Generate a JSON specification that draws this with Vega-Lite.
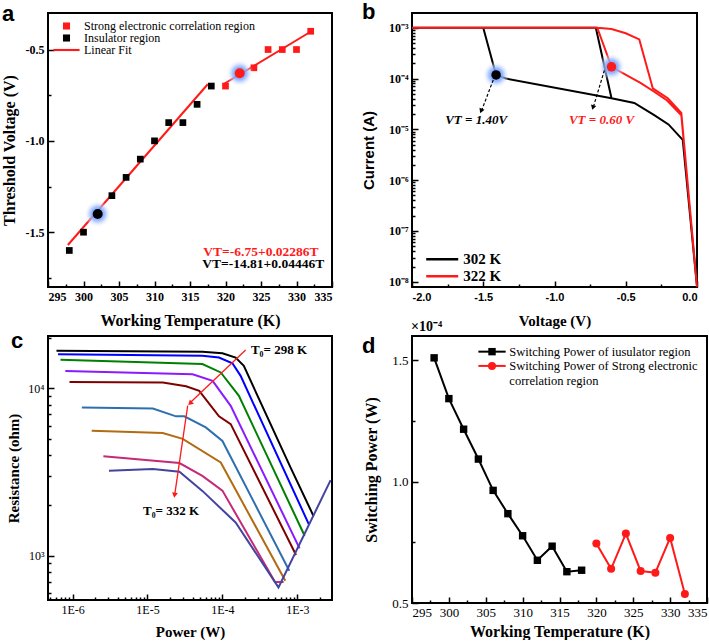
{
  "$schema": "https://vega.github.io/schema/vega-lite/v6.json",
  "padding": {"left": 0, "top": 0, "right": 0, "bottom": 0},
  "autosize": {"type": "pad"},
  "background": "white",
  "config": {
    "view": {"stroke": "black", "strokeWidth": 2},
    "axis": {"grid": false, "domain": false, "ticks": true, "tickColor": "black", "tickWidth": 1.5, "labelColor": "black", "titleColor": "black", "labelFont": "Liberation Serif", "titleFont": "Liberation Serif", "titleFontWeight": "bold", "labelFontSize": 12, "titleFontSize": 16, "labelPadding": 10, "labelOverlap": false},
    "legend": {"labelColor": "black", "padding": 0},
    "text": {"font": "Liberation Serif"}
  },
  "resolve": {"scale": {"color": "independent", "shape": "independent"}, "legend": {"color": "independent", "shape": "independent"}},
  "datasets": {
    "a_pts": [
      {"x": 298, "y": -1.6, "s": "Insulator region"},
      {"x": 300, "y": -1.5, "s": "Insulator region"},
      {"x": 304, "y": -1.3, "s": "Insulator region"},
      {"x": 306, "y": -1.2, "s": "Insulator region"},
      {"x": 308, "y": -1.1, "s": "Insulator region"},
      {"x": 310, "y": -1.0, "s": "Insulator region"},
      {"x": 312, "y": -0.9, "s": "Insulator region"},
      {"x": 314, "y": -0.9, "s": "Insulator region"},
      {"x": 316, "y": -0.8, "s": "Insulator region"},
      {"x": 318, "y": -0.7, "s": "Insulator region"},
      {"x": 320, "y": -0.7, "s": "Strong electronic correlation region"},
      {"x": 324, "y": -0.6, "s": "Strong electronic correlation region"},
      {"x": 326, "y": -0.5, "s": "Strong electronic correlation region"},
      {"x": 328, "y": -0.5, "s": "Strong electronic correlation region"},
      {"x": 330, "y": -0.5, "s": "Strong electronic correlation region"},
      {"x": 332, "y": -0.4, "s": "Strong electronic correlation region"}
    ],
    "a_fit": [
      {"x": 297.8, "y": -1.57, "g": "ins"},
      {"x": 317.5, "y": -0.69, "g": "ins"},
      {"x": 319.7, "y": -0.69, "g": "sec"},
      {"x": 332.1, "y": -0.40, "g": "sec"}
    ],
    "a_hl": [
      {"x": 302, "y": -1.4, "s": "Insulator region"},
      {"x": 322, "y": -0.63, "s": "Strong electronic correlation region"}
    ],
    "b_iv": [
      {"v": 0, "i": 8e-9, "s": "302 K", "o": 1},
      {"v": -0.1, "i": 6.2e-6, "s": "302 K", "o": 2},
      {"v": -0.2, "i": 1.25e-5, "s": "302 K", "o": 3},
      {"v": -0.3, "i": 1.9e-5, "s": "302 K", "o": 4},
      {"v": -0.44, "i": 3.3e-5, "s": "302 K", "o": 5},
      {"v": -0.6, "i": 4.1e-5, "s": "302 K", "o": 6},
      {"v": -1.34, "i": 1.0e-4, "s": "302 K", "o": 7},
      {"v": -1.41, "i": 1.18e-4, "s": "302 K", "o": 8},
      {"v": -1.5, "i": 1e-3, "s": "302 K", "o": 9},
      {"v": -2.0, "i": 1e-3, "s": "302 K", "o": 10},
      {"v": -0.71, "i": 1e-3, "s": "302 K", "o": 11},
      {"v": -0.6, "i": 4.1e-5, "s": "302 K", "o": 12},
      {"v": 0, "i": 8e-9, "s": "322 K", "o": 1},
      {"v": -0.11, "i": 2.1e-5, "s": "322 K", "o": 2},
      {"v": -0.205, "i": 4.1e-5, "s": "322 K", "o": 3},
      {"v": -0.31, "i": 6.4e-5, "s": "322 K", "o": 4},
      {"v": -0.405, "i": 5.9e-4, "s": "322 K", "o": 5},
      {"v": -0.5, "i": 7.8e-4, "s": "322 K", "o": 6},
      {"v": -0.6, "i": 9.4e-4, "s": "322 K", "o": 7},
      {"v": -0.7, "i": 1e-3, "s": "322 K", "o": 8},
      {"v": -2.0, "i": 1e-3, "s": "322 K", "o": 9},
      {"v": -0.7, "i": 1e-3, "s": "322 K", "o": 10},
      {"v": -0.6, "i": 1.7e-4, "s": "322 K", "o": 11},
      {"v": -0.394, "i": 8.1e-5, "s": "322 K", "o": 12},
      {"v": -0.3, "i": 5.5e-5, "s": "322 K", "o": 13},
      {"v": -0.215, "i": 3.8e-5, "s": "322 K", "o": 14},
      {"v": -0.11, "i": 1.9e-5, "s": "322 K", "o": 15},
      {"v": 0, "i": 8e-9, "s": "322 K", "o": 16}
    ],
    "b_hl": [
      {"v": -1.41, "i": 1.18e-4, "s": "302 K"},
      {"v": -0.6, "i": 1.7e-4, "s": "322 K"}
    ],
    "c_rp": [
      {"p": 6.1e-7, "r": 16800, "t": "298 K"},
      {"p": 5.4e-5, "r": 16600, "t": "298 K"},
      {"p": 1.0e-4, "r": 16260, "t": "298 K"},
      {"p": 1.5e-4, "r": 15300, "t": "298 K"},
      {"p": 1.93e-4, "r": 13650, "t": "298 K"},
      {"p": 8.1e-4, "r": 3370, "t": "298 K"},
      {"p": 1.64e-3, "r": 1730, "t": "298 K"},
      {"p": 6.4e-7, "r": 16040, "t": "302 K"},
      {"p": 5.4e-5, "r": 15700, "t": "302 K"},
      {"p": 9.0e-5, "r": 15300, "t": "302 K"},
      {"p": 1.36e-4, "r": 14150, "t": "302 K"},
      {"p": 1.75e-4, "r": 11900, "t": "302 K"},
      {"p": 1.44e-3, "r": 1524, "t": "302 K"},
      {"p": 6.9e-7, "r": 14830, "t": "306 K"},
      {"p": 5.4e-5, "r": 13990, "t": "306 K"},
      {"p": 9.5e-5, "r": 12470, "t": "306 K"},
      {"p": 1.66e-4, "r": 9030, "t": "306 K"},
      {"p": 1.25e-3, "r": 1315, "t": "306 K"},
      {"p": 8.0e-7, "r": 12740, "t": "310 K"},
      {"p": 4.0e-5, "r": 12170, "t": "310 K"},
      {"p": 7.4e-5, "r": 11100, "t": "310 K"},
      {"p": 1.29e-4, "r": 7870, "t": "310 K"},
      {"p": 1.07e-3, "r": 1106, "t": "310 K"},
      {"p": 9.1e-7, "r": 10940, "t": "314 K"},
      {"p": 1.6e-5, "r": 10860, "t": "314 K"},
      {"p": 3.27e-5, "r": 10300, "t": "314 K"},
      {"p": 4.9e-5, "r": 9680, "t": "314 K"},
      {"p": 9.0e-5, "r": 6810, "t": "314 K"},
      {"p": 1.29e-4, "r": 6120, "t": "314 K"},
      {"p": 9.6e-4, "r": 1010, "t": "314 K"},
      {"p": 1.33e-6, "r": 7700, "t": "318 K"},
      {"p": 1.18e-5, "r": 7590, "t": "318 K"},
      {"p": 2.4e-5, "r": 6810, "t": "318 K"},
      {"p": 3.1e-5, "r": 6810, "t": "318 K"},
      {"p": 6.0e-5, "r": 5850, "t": "318 K"},
      {"p": 1.0e-4, "r": 4850, "t": "318 K"},
      {"p": 7.8e-4, "r": 813, "t": "318 K"},
      {"p": 1.8e-6, "r": 5580, "t": "322 K"},
      {"p": 1.6e-5, "r": 5410, "t": "322 K"},
      {"p": 2.95e-5, "r": 5000, "t": "322 K"},
      {"p": 9.5e-5, "r": 3610, "t": "322 K"},
      {"p": 6.9e-4, "r": 708, "t": "322 K"},
      {"p": 2.58e-6, "r": 3930, "t": "326 K"},
      {"p": 2.67e-5, "r": 3580, "t": "326 K"},
      {"p": 5.4e-5, "r": 3000, "t": "326 K"},
      {"p": 1.0e-4, "r": 2450, "t": "326 K"},
      {"p": 5.03e-4, "r": 695, "t": "326 K"},
      {"p": 6.56e-4, "r": 695, "t": "326 K"},
      {"p": 3.06e-6, "r": 3220, "t": "332 K"},
      {"p": 1.18e-5, "r": 3300, "t": "332 K"},
      {"p": 2.67e-5, "r": 3180, "t": "332 K"},
      {"p": 5.4e-5, "r": 2440, "t": "332 K"},
      {"p": 1.5e-4, "r": 1580, "t": "332 K"},
      {"p": 5.6e-4, "r": 646, "t": "332 K"},
      {"p": 2.78e-3, "r": 2830, "t": "332 K"}
    ],
    "d_sp": [
      {"x": 298, "y": 1.51, "s": "Switching Power of iusulator region"},
      {"x": 300, "y": 1.342, "s": "Switching Power of iusulator region"},
      {"x": 302, "y": 1.216, "s": "Switching Power of iusulator region"},
      {"x": 304, "y": 1.093, "s": "Switching Power of iusulator region"},
      {"x": 306, "y": 0.964, "s": "Switching Power of iusulator region"},
      {"x": 308, "y": 0.868, "s": "Switching Power of iusulator region"},
      {"x": 310, "y": 0.777, "s": "Switching Power of iusulator region"},
      {"x": 312, "y": 0.676, "s": "Switching Power of iusulator region"},
      {"x": 314, "y": 0.734, "s": "Switching Power of iusulator region"},
      {"x": 316, "y": 0.629, "s": "Switching Power of iusulator region"},
      {"x": 318, "y": 0.635, "s": "Switching Power of iusulator region"},
      {"x": 320, "y": 0.745, "s": "Switching Power of Strong electronic correlation region"},
      {"x": 322, "y": 0.641, "s": "Switching Power of Strong electronic correlation region"},
      {"x": 324, "y": 0.786, "s": "Switching Power of Strong electronic correlation region"},
      {"x": 326, "y": 0.632, "s": "Switching Power of Strong electronic correlation region"},
      {"x": 328, "y": 0.625, "s": "Switching Power of Strong electronic correlation region"},
      {"x": 330, "y": 0.768, "s": "Switching Power of Strong electronic correlation region"},
      {"x": 332, "y": 0.537, "s": "Switching Power of Strong electronic correlation region"}
    ]
  },
  "columns": 2,
  "spacing": {"row": 49, "column": 80},
  "bounds": "flush",
  "concat": [
    {
      "title": {"text": "a", "anchor": "start", "frame": "group", "orient": "top", "offset": 0, "baseline": "alphabetic", "dx": -46, "dy": 30, "font": "Liberation Sans", "fontSize": 22, "fontWeight": "bold", "color": "black"},
      "width": 284,
      "height": 274,
      "layer": [
        {"data": {"name": "a_fit"}, "mark": {"type": "line", "color": "#ff1a1a", "strokeWidth": 2},
          "encoding": {
            "x": {"field": "x", "type": "quantitative", "scale": {"domain": [295, 335], "nice": false, "zero": false},
              "axis": {"title": "Working Temperature (K)", "values": [295, 297.5, 300, 302.5, 305, 307.5, 310, 312.5, 315, 317.5, 320, 322.5, 325, 327.5, 330, 332.5, 335], "tickCount": 100, "labelExpr": "datum.value % 5 == 0 ? format(datum.value, 'd') : ''", "labelOverlap": false, "labelBound": false, "tickSize": {"condition": {"test": "datum.value % 5 == 0", "value": -6}, "value": -3}, "labelFontWeight": "bold", "titlePadding": 7}},
            "y": {"field": "y", "type": "quantitative", "scale": {"domain": [-1.8, -0.3], "nice": false, "zero": false},
              "axis": {"title": "Threshold Voltage (V)", "values": [-1.75, -1.5, -1.25, -1, -0.75, -0.5], "tickCount": 100, "labelOverlap": false, "labelExpr": "abs(datum.value*2 - round(datum.value*2)) < 0.001 ? replace(format(datum.value, '.1f'), '\u2212', '-') : ''", "tickSize": {"condition": {"test": "abs(datum.value*2 - round(datum.value*2)) < 0.001", "value": -6}, "value": -3}, "labelFontWeight": "bold", "titlePadding": 8}},
            "detail": {"field": "g", "type": "nominal"}}},
        {"data": {"name": "a_pts"}, "mark": {"type": "point", "filled": true, "size": 45, "opacity": 1},
          "encoding": {
            "x": {"field": "x", "type": "quantitative"},
            "y": {"field": "y", "type": "quantitative"},
            "color": {"field": "s", "type": "nominal", "scale": {"domain": ["Strong electronic correlation region", "Insulator region", "Linear Fit"], "range": ["#ff1a1a", "#000000", "#ff1a1a"]},
              "legend": {"orient": "none", "legendX": 12.5, "legendY": 7, "title": null, "labelFont": "Liberation Serif", "labelFontSize": 12, "labelLimit": 300, "symbolSize": 50, "rowPadding": -0.5, "labelOffset": 11.5}},
            "shape": {"field": "s", "type": "nominal", "scale": {"domain": ["Strong electronic correlation region", "Insulator region", "Linear Fit"], "range": ["square", "square", "M-3.7,-0.3H3.7V0.3H-3.7Z"]},
              "legend": {"orient": "none", "legendX": 12.5, "legendY": 7, "title": null, "labelFont": "Liberation Serif", "labelFontSize": 12, "labelLimit": 300, "symbolSize": 50, "rowPadding": -0.5, "labelOffset": 11.5}}
          }},
        {"data": {"name": "a_hl"}, "mark": {"type": "point", "shape": "circle", "size": 750, "filled": true, "strokeWidth": 0, "opacity": 0.85, "fill": {"gradient": "radial", "stops": [{"offset": 0, "color": "#2f6fff"}, {"offset": 0.5, "color": "#8fb3ff"}, {"offset": 1, "color": "rgba(255,255,255,0)"}]}},
          "encoding": {"x": {"field": "x", "type": "quantitative"}, "y": {"field": "y", "type": "quantitative"}}},
        {"data": {"name": "a_hl"}, "mark": {"type": "point", "shape": "circle", "size": 100, "filled": true, "opacity": 1},
          "encoding": {"x": {"field": "x", "type": "quantitative"}, "y": {"field": "y", "type": "quantitative"}, "color": {"field": "s", "type": "nominal", "legend": null}}},
        {"data": {"values": [{}]}, "mark": {"type": "text", "text": "VT=-6.75+0.02286T", "align": "right", "baseline": "middle", "font": "Liberation Serif", "fontSize": 13.5, "fontWeight": "bold", "color": "#ff1a1a"},
          "encoding": {"x": {"datum": 333.1}, "y": {"datum": -1.607}}},
        {"data": {"values": [{}]}, "mark": {"type": "text", "text": "VT=-14.81+0.04446T", "align": "right", "baseline": "middle", "font": "Liberation Serif", "fontSize": 13.5, "fontWeight": "bold", "color": "black"},
          "encoding": {"x": {"datum": 333.9}, "y": {"datum": -1.675}}}
      ]
    },
    {
      "title": {"text": "b", "anchor": "start", "frame": "group", "orient": "top", "offset": 0, "baseline": "alphabetic", "dx": -50, "dy": 28, "font": "Liberation Sans", "fontSize": 22, "fontWeight": "bold", "color": "black"},
      "width": 285,
      "height": 274,
      "layer": [
        {"data": {"name": "b_iv"}, "mark": {"type": "line", "strokeWidth": 2},
          "encoding": {
            "x": {"field": "v", "type": "quantitative", "scale": {"domain": [-2, 0], "nice": false, "zero": false},
              "axis": {"title": "Voltage (V)", "values": [-2, -1.75, -1.5, -1.25, -1, -0.75, -0.5, -0.25, 0], "tickCount": 100, "labelOverlap": false, "labelExpr": "abs(datum.value*2 - round(datum.value*2)) < 0.001 ? replace(format(datum.value, '.1f'), '\u2212', '-') : ''", "tickSize": {"condition": {"test": "abs(datum.value*2 - round(datum.value*2)) < 0.001", "value": -6}, "value": -3}, "labelFont": "Liberation Sans", "labelFontWeight": "bold", "labelFontSize": 11, "titleFontSize": 15, "titlePadding": 8}},
            "y": {"field": "i", "type": "quantitative", "scale": {"type": "log", "domain": [7.9e-9, 1.95e-3], "nice": false},
              "axis": {"title": "Current (A)", "titleFont": "Liberation Sans", "titleFontSize": 15, "titlePadding": 12, "labelFontWeight": "bold", "labelFontSize": 12, "labelOverlap": false, "tickCount": 100,
                "values": [1e-8, 2e-8, 3e-8, 4e-8, 5e-8, 6e-8, 7e-8, 8e-8, 9e-8, 1e-7, 2e-7, 3e-7, 4e-7, 5e-7, 6e-7, 7e-7, 8e-7, 9e-7, 1e-6, 2e-6, 3e-6, 4e-6, 5e-6, 6e-6, 7e-6, 8e-6, 9e-6, 1e-5, 2e-5, 3e-5, 4e-5, 5e-5, 6e-5, 7e-5, 8e-5, 9e-5, 1e-4, 2e-4, 3e-4, 4e-4, 5e-4, 6e-4, 7e-4, 8e-4, 9e-4, 1e-3],
                "labelExpr": "datum.value == 1e-3 ? '10\u207b\u00b3' : datum.value == 1e-4 ? '10\u207b\u2074' : datum.value == 1e-5 ? '10\u207b\u2075' : datum.value == 1e-6 ? '10\u207b\u2076' : datum.value == 1e-7 ? '10\u207b\u2077' : datum.value == 1e-8 ? '10\u207b\u2078' : ''",
                "tickSize": {"condition": {"test": "abs(log(datum.value)/LN10 - round(log(datum.value)/LN10)) < 0.001", "value": -6}, "value": -3}}},
            "color": {"field": "s", "type": "nominal", "scale": {"domain": ["302 K", "322 K"], "range": ["#000000", "#ff1a1a"]},
              "legend": {"orient": "none", "legendX": 22.7, "legendY": 238.7, "title": null, "symbolType": "M-3,0H3", "symbolSize": 114, "symbolStrokeWidth": 2.5, "labelFont": "Liberation Serif", "labelFontWeight": "bold", "labelFontSize": 15, "rowPadding": 1, "labelOffset": 13.6}},
            "order": {"field": "o", "type": "quantitative"}}},
        {"data": {"name": "b_hl"}, "mark": {"type": "point", "shape": "circle", "size": 750, "filled": true, "strokeWidth": 0, "opacity": 0.85, "fill": {"gradient": "radial", "stops": [{"offset": 0, "color": "#2f6fff"}, {"offset": 0.5, "color": "#8fb3ff"}, {"offset": 1, "color": "rgba(255,255,255,0)"}]}},
          "encoding": {"x": {"field": "v", "type": "quantitative"}, "y": {"field": "i", "type": "quantitative"}}},
        {"data": {"name": "b_hl"}, "mark": {"type": "point", "shape": "circle", "size": 90, "filled": true, "opacity": 1},
          "encoding": {"x": {"field": "v", "type": "quantitative"}, "y": {"field": "i", "type": "quantitative"}, "color": {"field": "s", "type": "nominal", "legend": null}}},
        {"data": {"values": [{}]}, "mark": {"type": "rule", "color": "black", "strokeWidth": 1.2, "strokeDash": [3, 2]},
          "encoding": {"x": {"datum": -1.43}, "y": {"datum": 9.4e-5}, "x2": {"datum": -1.51}, "y2": {"datum": 2.4e-5}}},
        {"data": {"values": [{}]}, "mark": {"type": "rule", "color": "black", "strokeWidth": 1.2, "strokeDash": [3, 2]},
          "encoding": {"x": {"datum": -0.65}, "y": {"datum": 1.45e-4}, "x2": {"datum": -0.725}, "y2": {"datum": 2.9e-5}}},
        {"data": {"values": [{}]}, "mark": {"type": "point", "shape": "triangle-up", "angle": 202, "filled": true, "size": 30, "color": "black", "opacity": 1},
          "encoding": {"x": {"datum": -1.515}, "y": {"datum": 2.3e-5}}},
        {"data": {"values": [{}]}, "mark": {"type": "point", "shape": "triangle-up", "angle": 196, "filled": true, "size": 30, "color": "black", "opacity": 1},
          "encoding": {"x": {"datum": -0.73}, "y": {"datum": 2.7e-5}}},
        {"data": {"values": [{}]}, "mark": {"type": "text", "text": "VT = 1.40V", "align": "center", "baseline": "middle", "font": "Liberation Serif", "fontSize": 13, "fontWeight": "bold", "fontStyle": "italic", "color": "black"},
          "encoding": {"x": {"datum": -1.55}, "y": {"datum": 1.5e-5}}},
        {"data": {"values": [{}]}, "mark": {"type": "text", "text": "VT = 0.60 V", "align": "center", "baseline": "middle", "font": "Liberation Serif", "fontSize": 13, "fontWeight": "bold", "fontStyle": "italic", "color": "#ff1a1a"},
          "encoding": {"x": {"datum": -0.67}, "y": {"datum": 1.5e-5}}}
      ]
    },
    {
      "title": {"text": "c", "anchor": "start", "frame": "group", "orient": "top", "offset": 0, "baseline": "alphabetic", "dx": -37, "dy": 38, "font": "Liberation Sans", "fontSize": 22, "fontWeight": "bold", "color": "black"},
      "width": 284,
      "height": 264,
      "layer": [
        {"data": {"name": "c_rp"}, "mark": {"type": "line", "strokeWidth": 2},
          "encoding": {
            "x": {"field": "p", "type": "quantitative", "scale": {"type": "log", "domain": [4.7e-7, 2.9e-3], "nice": false},
              "axis": {"title": "Power (W)", "titleFontSize": 15, "titlePadding": 6, "labelOverlap": false, "tickCount": 100,
                "values": [5e-7, 6e-7, 7e-7, 8e-7, 9e-7, 1e-6, 2e-6, 3e-6, 4e-6, 5e-6, 6e-6, 7e-6, 8e-6, 9e-6, 1e-5, 2e-5, 3e-5, 4e-5, 5e-5, 6e-5, 7e-5, 8e-5, 9e-5, 1e-4, 2e-4, 3e-4, 4e-4, 5e-4, 6e-4, 7e-4, 8e-4, 9e-4, 1e-3, 2e-3],
                "labelExpr": "datum.value == 1e-6 ? '1E-6' : datum.value == 1e-5 ? '1E-5' : datum.value == 1e-4 ? '1E-4' : datum.value == 1e-3 ? '1E-3' : ''",
                "tickSize": {"condition": {"test": "abs(log(datum.value)/LN10 - round(log(datum.value)/LN10)) < 0.001", "value": -6}, "value": -3}}},
            "y": {"field": "r", "type": "quantitative", "scale": {"type": "log", "domain": [543, 20600], "nice": false},
              "axis": {"title": "Resistance (ohm)", "titleFontSize": 15, "titlePadding": 6, "labelOverlap": false, "tickCount": 100,
                "values": [600, 700, 800, 900, 1000, 2000, 3000, 4000, 5000, 6000, 7000, 8000, 9000, 10000, 20000],
                "labelExpr": "datum.value == 1000 ? '10\u00b3' : datum.value == 10000 ? '10\u2074' : ''",
                "tickSize": {"condition": {"test": "abs(log(datum.value)/LN10 - round(log(datum.value)/LN10)) < 0.001", "value": -6}, "value": -3}}},
            "color": {"field": "t", "type": "nominal", "scale": {"domain": ["298 K", "302 K", "306 K", "310 K", "314 K", "318 K", "322 K", "326 K", "332 K"], "range": ["#000000", "#0000ff", "#008000", "#8b1aff", "#800000", "#2e6fb0", "#b36b12", "#c42a78", "#4444a0"]}, "legend": null}}},
        {"data": {"values": [{}]}, "mark": {"type": "rule", "color": "#ff1a1a", "strokeWidth": 1.3},
          "encoding": {"x": {"datum": 2.04e-4}, "y": {"datum": 17000}, "x2": {"datum": 3.8e-5}, "y2": {"datum": 8300}}},
        {"data": {"values": [{}]}, "mark": {"type": "point", "shape": "triangle-up", "angle": 226, "filled": true, "size": 35, "color": "#ff1a1a", "opacity": 1},
          "encoding": {"x": {"datum": 3.7e-5}, "y": {"datum": 8150}}},
        {"data": {"values": [{}]}, "mark": {"type": "rule", "color": "#ff1a1a", "strokeWidth": 1.3},
          "encoding": {"x": {"datum": 3.44e-5}, "y": {"datum": 7900}, "x2": {"datum": 2.32e-5}, "y2": {"datum": 2350}}},
        {"data": {"values": [{}]}, "mark": {"type": "point", "shape": "triangle-up", "angle": 188, "filled": true, "size": 35, "color": "#ff1a1a", "opacity": 1},
          "encoding": {"x": {"datum": 2.3e-5}, "y": {"datum": 2300}}},
        {"data": {"values": [{}]}, "mark": {"type": "text", "text": "T\u2080= 298 K", "align": "left", "baseline": "middle", "font": "Liberation Serif", "fontSize": 13, "fontWeight": "bold", "color": "black"},
          "encoding": {"x": {"datum": 2.4e-4}, "y": {"datum": 17100}}},
        {"data": {"values": [{}]}, "mark": {"type": "text", "text": "T\u2080= 332 K", "align": "left", "baseline": "middle", "font": "Liberation Serif", "fontSize": 13, "fontWeight": "bold", "color": "black"},
          "encoding": {"x": {"datum": 8.7e-6}, "y": {"datum": 1860}}}
      ]
    },
    {
      "title": {"text": "d", "anchor": "start", "frame": "group", "orient": "top", "offset": 0, "baseline": "alphabetic", "dx": -50, "dy": 55, "font": "Liberation Sans", "fontSize": 22, "fontWeight": "bold", "color": "black"},
      "width": 295,
      "height": 267,
      "layer": [
        {"data": {"name": "d_sp"}, "mark": {"type": "line", "strokeWidth": 2},
          "encoding": {
            "x": {"field": "x", "type": "quantitative", "scale": {"domain": [295, 335], "nice": false, "zero": false},
              "axis": {"title": "Working Temperature (K)", "values": [295, 297.5, 300, 302.5, 305, 307.5, 310, 312.5, 315, 317.5, 320, 322.5, 325, 327.5, 330, 332.5, 335], "tickCount": 100, "labelExpr": "datum.value % 5 == 0 ? format(datum.value, 'd') : ''", "labelOverlap": false, "labelBound": false, "tickSize": {"condition": {"test": "datum.value % 5 == 0", "value": -6}, "value": -3}, "labelFontSize": 13, "labelPadding": 9, "titlePadding": 1}},
            "y": {"field": "y", "type": "quantitative", "scale": {"domain": [0.5, 1.6], "nice": false, "zero": false},
              "axis": {"title": "Switching Power (W)", "values": [0.5, 0.75, 1, 1.25, 1.5], "tickCount": 100, "labelOverlap": false, "labelExpr": "abs(datum.value*2 - round(datum.value*2)) < 0.001 ? format(datum.value, '.1f') : ''", "tickSize": {"condition": {"test": "abs(datum.value*2 - round(datum.value*2)) < 0.001", "value": -6}, "value": -3}, "labelFontSize": 13, "titlePadding": 12}},
            "color": {"field": "s", "type": "nominal", "scale": {"domain": ["Switching Power of iusulator region", "Switching Power of Strong electronic correlation region"], "range": ["#000000", "#ff1a1a"]}, "legend": null}}},
        {"data": {"name": "d_sp"}, "transform": [{"filter": "datum.s == 'Switching Power of iusulator region'"}], "mark": {"type": "point", "shape": "square", "filled": true, "size": 55, "color": "black", "opacity": 1},
          "encoding": {"x": {"field": "x", "type": "quantitative"}, "y": {"field": "y", "type": "quantitative"}}},
        {"data": {"name": "d_sp"}, "transform": [{"filter": "datum.s != 'Switching Power of iusulator region'"}], "mark": {"type": "point", "shape": "circle", "filled": true, "size": 65, "color": "#ff1a1a", "opacity": 1},
          "encoding": {"x": {"field": "x", "type": "quantitative"}, "y": {"field": "y", "type": "quantitative"}}},
        {"data": {"values": [{}]}, "mark": {"type": "rule", "color": "black", "strokeWidth": 2},
          "encoding": {"x": {"datum": 304.0}, "x2": {"datum": 307.7}, "y": {"datum": 1.5355}}},
        {"data": {"values": [{}]}, "mark": {"type": "rule", "color": "#ff1a1a", "strokeWidth": 2},
          "encoding": {"x": {"datum": 304.0}, "x2": {"datum": 307.7}, "y": {"datum": 1.4767}}},
        {"data": {"values": [{}]}, "mark": {"type": "point", "shape": "square", "filled": true, "size": 55, "color": "black", "opacity": 1},
          "encoding": {"x": {"datum": 305.85}, "y": {"datum": 1.5355}}},
        {"data": {"values": [{}]}, "mark": {"type": "point", "shape": "circle", "filled": true, "size": 65, "color": "#ff1a1a", "opacity": 1},
          "encoding": {"x": {"datum": 305.85}, "y": {"datum": 1.4767}}},
        {"data": {"values": [{}]}, "mark": {"type": "text", "text": "Switching Power of iusulator region", "align": "left", "baseline": "middle", "font": "Liberation Serif", "fontSize": 12.5, "color": "black"},
          "encoding": {"x": {"datum": 308.2}, "y": {"datum": 1.5355}}},
        {"data": {"values": [{}]}, "mark": {"type": "text", "text": "Switching Power of Strong electronic", "align": "left", "baseline": "middle", "font": "Liberation Serif", "fontSize": 12.5, "color": "black"},
          "encoding": {"x": {"datum": 308.2}, "y": {"datum": 1.4767}}},
        {"data": {"values": [{}]}, "mark": {"type": "text", "text": "correlation region", "align": "left", "baseline": "middle", "font": "Liberation Serif", "fontSize": 12.5, "color": "black"},
          "encoding": {"x": {"datum": 308.2}, "y": {"datum": 1.4163}}},
        {"data": {"values": [{}]}, "mark": {"type": "text", "text": "\u00d710\u207b\u2074", "align": "left", "baseline": "alphabetic", "dx": -1, "dy": -5, "font": "Liberation Serif", "fontSize": 14, "fontWeight": "bold", "color": "black"},
          "encoding": {"x": {"datum": 295}, "y": {"datum": 1.6}}}
      ]
    }
  ]
}
